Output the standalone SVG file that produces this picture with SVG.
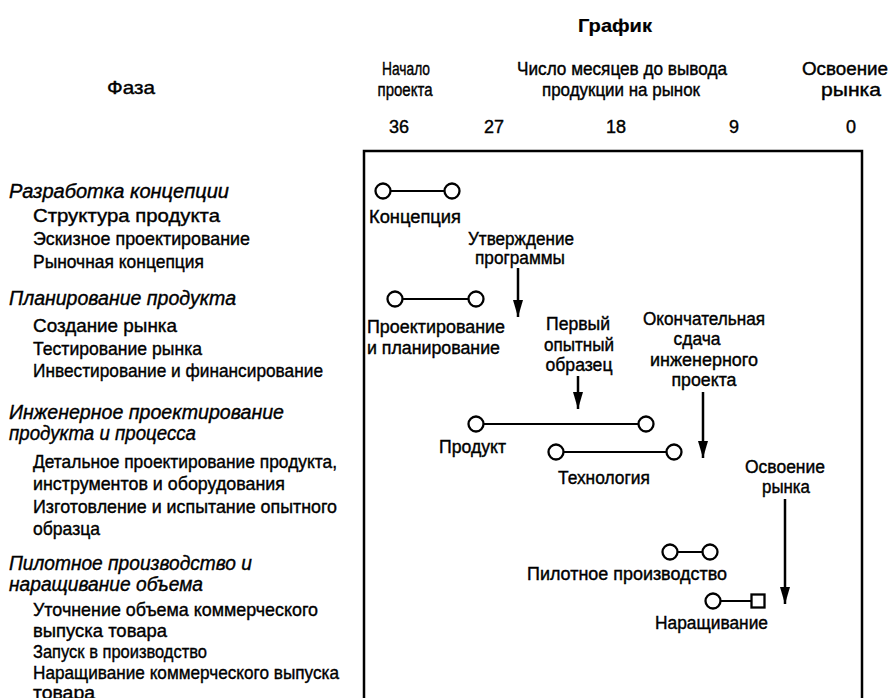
<svg xmlns="http://www.w3.org/2000/svg" width="891" height="698" viewBox="0 0 891 698">
  <style>
    text { font-family: "Liberation Sans", Arial, sans-serif; fill: #000; stroke: #000; stroke-width: 0.4; }
    .t { font-size: 19px; }
    .h { font-size: 20px; font-style: italic; }
    .c { font-size: 18px; text-anchor: middle; }
    .l { font-size: 18px; }
    .title { font-size: 19px; font-weight: bold; stroke-width: 0.2; }
    .frame { fill: none; stroke: #000; stroke-width: 2.5; }
    .bar { stroke: #000; stroke-width: 1.8; }
    .pt { fill: #fff; stroke: #000; stroke-width: 2.3; }
    .arr { stroke: #000; stroke-width: 2.5; fill: none; marker-end: url(#head); }
  </style>
  <defs>
    <!-- arrowhead drawn along +x; the tip sits on the line end -->
    <marker id="head" viewBox="0 0 17 10" refX="17" refY="5" markerWidth="17" markerHeight="10" markerUnits="userSpaceOnUse" orient="auto">
      <path d="M0,0 L17,5 L0,10 Z" fill="#000"/>
    </marker>
  </defs>
  <rect width="891" height="698" fill="#fff"/>

  <!-- column headings -->
  <g id="header">
    <text class="title" x="615" y="32" text-anchor="middle" textLength="74" lengthAdjust="spacingAndGlyphs">График</text>
    <text class="t" x="131" y="94" text-anchor="middle" textLength="48" lengthAdjust="spacingAndGlyphs">Фаза</text>
    <text class="c" x="406" y="75" textLength="48" lengthAdjust="spacingAndGlyphs">Начало</text>
    <text class="c" x="405" y="96" textLength="55" lengthAdjust="spacingAndGlyphs">проекта</text>
    <text class="c" x="622" y="75" textLength="210" lengthAdjust="spacingAndGlyphs">Число месяцев до вывода</text>
    <text class="c" x="621" y="96" textLength="158" lengthAdjust="spacingAndGlyphs">продукции на рынок</text>
    <text class="c" x="845" y="75" textLength="86" lengthAdjust="spacingAndGlyphs">Освоение</text>
    <text class="c" x="851" y="96" textLength="60" lengthAdjust="spacingAndGlyphs">рынка</text>
  </g>

  <!-- month scale -->
  <g id="scale">
    <text class="c" x="399" y="133">36</text>
    <text class="c" x="494" y="133">27</text>
    <text class="c" x="616" y="133">18</text>
    <text class="c" x="734" y="133">9</text>
    <text class="c" x="851" y="133">0</text>
  </g>

  <!-- phase list -->
  <g id="phase-concept">
    <text class="h" x="9" y="198" textLength="220" lengthAdjust="spacingAndGlyphs">Разработка концепции</text>
    <text class="t" x="33" y="222" textLength="187" lengthAdjust="spacingAndGlyphs">Структура продукта</text>
    <text class="t" x="33" y="245" textLength="217" lengthAdjust="spacingAndGlyphs">Эскизное проектирование</text>
    <text class="t" x="33" y="268" textLength="171" lengthAdjust="spacingAndGlyphs">Рыночная концепция</text>
  </g>
  <g id="phase-planning">
    <text class="h" x="9" y="305" textLength="227" lengthAdjust="spacingAndGlyphs">Планирование продукта</text>
    <text class="t" x="33" y="332" textLength="144" lengthAdjust="spacingAndGlyphs">Создание рынка</text>
    <text class="t" x="33" y="355" textLength="169" lengthAdjust="spacingAndGlyphs">Тестирование рынка</text>
    <text class="t" x="33" y="377" textLength="290" lengthAdjust="spacingAndGlyphs">Инвестирование и финансирование</text>
  </g>
  <g id="phase-engineering">
    <text class="h" x="9" y="419" textLength="275" lengthAdjust="spacingAndGlyphs">Инженерное проектирование</text>
    <text class="h" x="9" y="440" textLength="187" lengthAdjust="spacingAndGlyphs">продукта и процесса</text>
    <text class="t" x="33" y="468" textLength="304" lengthAdjust="spacingAndGlyphs">Детальное проектирование продукта,</text>
    <text class="t" x="33" y="490" textLength="252" lengthAdjust="spacingAndGlyphs">инструментов и оборудования</text>
    <text class="t" x="33" y="513" textLength="304" lengthAdjust="spacingAndGlyphs">Изготовление и испытание опытного</text>
    <text class="t" x="33" y="535" textLength="67" lengthAdjust="spacingAndGlyphs">образца</text>
  </g>
  <g id="phase-pilot">
    <text class="h" x="9" y="570" textLength="243" lengthAdjust="spacingAndGlyphs">Пилотное производство и</text>
    <text class="h" x="9" y="591" textLength="194" lengthAdjust="spacingAndGlyphs">наращивание объема</text>
    <text class="t" x="33" y="616" textLength="285" lengthAdjust="spacingAndGlyphs">Уточнение объема коммерческого</text>
    <text class="t" x="33" y="637" textLength="134" lengthAdjust="spacingAndGlyphs">выпуска товара</text>
    <text class="t" x="33" y="658" textLength="174" lengthAdjust="spacingAndGlyphs">Запуск в производство</text>
    <text class="t" x="33" y="679" textLength="306" lengthAdjust="spacingAndGlyphs">Наращивание коммерческого выпуска</text>
    <text class="t" x="33" y="699" textLength="62" lengthAdjust="spacingAndGlyphs">товара</text>
  </g>

  <!-- chart frame, open at the bottom -->
  <path class="frame" d="M364,705 V151 H862 V705"/>

  <!-- activity spans -->
  <g id="concept">
    <line class="bar" x1="383" y1="191" x2="452" y2="191"/>
    <circle class="pt" cx="383" cy="191" r="7.5"/>
    <circle class="pt" cx="452" cy="191" r="7.5"/>
    <text class="l" x="369" y="223" textLength="92" lengthAdjust="spacingAndGlyphs">Концепция</text>
  </g>
  <g id="design-planning">
    <line class="bar" x1="395" y1="299" x2="476" y2="299"/>
    <circle class="pt" cx="395" cy="299" r="7.5"/>
    <circle class="pt" cx="476" cy="299" r="7.5"/>
    <text class="l" x="367" y="333" textLength="138" lengthAdjust="spacingAndGlyphs">Проектирование</text>
    <text class="l" x="367" y="354" textLength="133" lengthAdjust="spacingAndGlyphs">и планирование</text>
  </g>
  <g id="product">
    <line class="bar" x1="476" y1="424" x2="646" y2="424"/>
    <circle class="pt" cx="476" cy="424" r="7.5"/>
    <circle class="pt" cx="646" cy="424" r="7.5"/>
    <text class="l" x="439" y="453" textLength="67" lengthAdjust="spacingAndGlyphs">Продукт</text>
  </g>
  <g id="technology">
    <line class="bar" x1="556" y1="452" x2="674" y2="452"/>
    <circle class="pt" cx="556" cy="452" r="7.5"/>
    <circle class="pt" cx="674" cy="452" r="7.5"/>
    <text class="l" x="558" y="484" textLength="92" lengthAdjust="spacingAndGlyphs">Технология</text>
  </g>
  <g id="pilot">
    <line class="bar" x1="670" y1="552" x2="710" y2="552"/>
    <circle class="pt" cx="670" cy="552" r="7.5"/>
    <circle class="pt" cx="710" cy="552" r="7.5"/>
    <text class="l" x="527" y="580" textLength="200" lengthAdjust="spacingAndGlyphs">Пилотное производство</text>
  </g>
  <g id="ramp-up">
    <line class="bar" x1="713" y1="601" x2="752" y2="601"/>
    <circle class="pt" cx="713" cy="601" r="7.5"/>
    <rect class="pt" x="751.5" y="594.5" width="13" height="13"/>
    <text class="l" x="655" y="629" textLength="113" lengthAdjust="spacingAndGlyphs">Наращивание</text>
  </g>

  <!-- milestone labels -->
  <g id="program-approval">
    <text class="c" x="521" y="245" textLength="106" lengthAdjust="spacingAndGlyphs">Утверждение</text>
    <text class="c" x="520" y="264" textLength="90" lengthAdjust="spacingAndGlyphs">программы</text>
  </g>
  <g id="first-prototype">
    <text class="c" x="578" y="330" textLength="64" lengthAdjust="spacingAndGlyphs">Первый</text>
    <text class="c" x="579" y="351" textLength="70" lengthAdjust="spacingAndGlyphs">опытный</text>
    <text class="c" x="579" y="371" textLength="67" lengthAdjust="spacingAndGlyphs">образец</text>
  </g>
  <g id="engineering-release">
    <text class="c" x="704" y="325" textLength="122" lengthAdjust="spacingAndGlyphs">Окончательная</text>
    <text class="c" x="697" y="345" textLength="47" lengthAdjust="spacingAndGlyphs">сдача</text>
    <text class="c" x="704" y="366" textLength="108" lengthAdjust="spacingAndGlyphs">инженерного</text>
    <text class="c" x="704" y="386" textLength="65" lengthAdjust="spacingAndGlyphs">проекта</text>
  </g>
  <g id="market-launch">
    <text class="c" x="785" y="473" textLength="80" lengthAdjust="spacingAndGlyphs">Освоение</text>
    <text class="c" x="786" y="493" textLength="48" lengthAdjust="spacingAndGlyphs">рынка</text>
  </g>

  <!-- milestone arrows -->
  <g id="connectors">
    <line class="arr" x1="518" y1="268" x2="518" y2="317"/>
    <line class="arr" x1="578" y1="376" x2="578" y2="409"/>
    <line class="arr" x1="703" y1="392" x2="703" y2="458"/>
    <line class="arr" x1="785" y1="499" x2="785" y2="604"/>
  </g>
</svg>
